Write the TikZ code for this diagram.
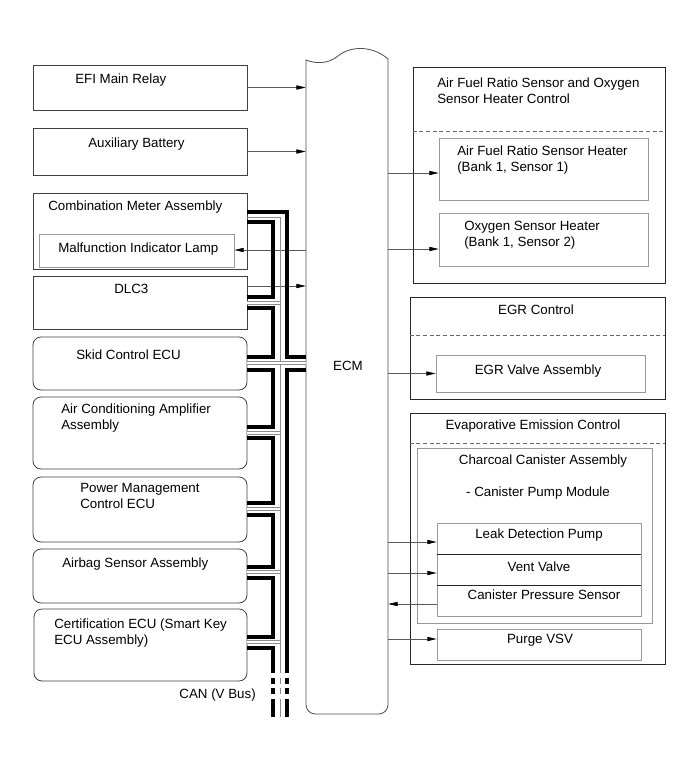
\documentclass[tikz,border=0pt]{standalone}
\usepackage{fontspec}
\setmainfont{Liberation Sans}
\usetikzlibrary{arrows.meta,fit,calc}
\begin{document}
\begin{tikzpicture}[x=0.75pt,y=-0.75pt,
  box/.style={draw=black!75, line width=0.6pt, inner sep=0pt},
  rbox/.style={box, rounded corners=6pt},
  ibox/.style={draw=black!40, line width=0.6pt, inner sep=0pt},
  grp/.style={draw=black!85, line width=0.6pt, inner sep=0pt},
  sep/.style={draw=black!60, dash pattern=on 3pt off 2pt, line width=0.5pt},
  txt/.style={anchor=base west, inner sep=0pt, align=left, font=\fontsize{10}{12}\selectfont},
  ctxt/.style={anchor=base, inner sep=0pt, font=\fontsize{10}{12}\selectfont},
  arr/.style={draw=black!65, line width=0.5pt, -{Triangle[length=7pt,width=3.2pt,color=black]}},
  bus/.style={line width=3pt, black},
  gline/.style={draw=black!45, line width=0.7pt},
  dbl/.style={draw=black!45, line width=0.4pt, double=white, double distance=1.6pt},
]
\useasboundingbox (0,0) rectangle (691,757);
\fill[white] (0,0) rectangle (691,757);

% ---------- left boxes ----------
\node[box, fit={(33,65)(247,110)}] (efi) {};
\node[box, fit={(33,128)(247,175)}] (aux) {};
\node[box, fit={(33,193)(247,269)}] (cm) {};
\node[ibox, fit={(39,234)(234,267)}] (mil) {};
\node[box, fit={(33,276)(247,329)}] (dlc) {};
\node[rbox, fit={(33,337)(247,390)}] (skid) {};
\node[rbox, fit={(33,397)(247,469)}] (ac) {};
\node[rbox, fit={(33,477)(247,542)}] (pm) {};
\node[rbox, fit={(33,549)(247,603)}] (airbag) {};
\node[rbox, fit={(34,609)(247,681)}] (cert) {};

\node[txt] (tefi) at (75,83) {EFI Main Relay};
\node[txt] (taux) at (88,147) {Auxiliary Battery};
\node[txt] (tcm) at (48,210) {Combination Meter Assembly};
\node[txt] (tmil) at (58,252) {Malfunction Indicator Lamp};
\node[txt] (tdlc) at (114,293) {DLC3};
\node[txt] (tskid) at (76,359) {Skid Control ECU};
\node[txt] (tac) at (61,429) {Air Conditioning Amplifier\\Assembly};
\node[txt] (tpm) at (80,508) {Power Management\\Control ECU};
\node[txt] (tairbag) at (62,567) {Airbag Sensor Assembly};
\node[txt] (tcert) at (54,644) {Certification ECU (Smart Key\\ECU Assembly)};
\node[anchor=base east, inner sep=0pt, font=\fontsize{10}{12}\selectfont] (tcan) at (256,698) {CAN (V Bus)};

% ---------- ECM ----------
\node[fit={(306,60)(388,714)}, inner sep=0pt] (ecm) {};
\draw[draw=black!70, line width=0.6pt]
  (306,60) .. controls (316,64) and (328,64) .. (338,56)
  .. controls (350,46) and (372,45) .. (388,59)
  [rounded corners=7pt] -- (388,714) -- (306,714) [sharp corners] -- cycle;
\node[ctxt] (tecm) at (348,370) {ECM};

% ---------- right groups ----------
\node[grp, fit={(413,67)(665,283)}] (afrg) {};
\draw[sep] (afrg.west |- 0,131) -- (afrg.east |- 0,131);
\node[ibox, fit={(439,138)(648,200)}] (afrh) {};
\node[ibox, fit={(439,213)(648,266)}] (o2h) {};
\node[txt] (tafrg) at (437,103) {Air Fuel Ratio Sensor and Oxygen\\Sensor Heater Control};
\node[txt] (tafrh) at (457,171) {Air Fuel Ratio Sensor Heater\\(Bank 1, Sensor 1)};
\node[txt] (to2h) at (464,246) {Oxygen Sensor Heater\\(Bank 1, Sensor 2)};

\node[grp, fit={(410,297)(665,399)}] (egrg) {};
\draw[sep] (egrg.west |- 0,335) -- (egrg.east |- 0,335);
\node[ibox, fit={(436,355)(645,392)}] (egrv) {};
\node[ctxt] (tegrg) at (536,314) {EGR Control};
\node[ctxt] (tegrv) at (538,374) {EGR Valve Assembly};

\node[grp, fit={(410,413)(665,664)}] (evapg) {};
\draw[sep] (evapg.west |- 0,443) -- (evapg.east |- 0,443);
\node[ibox, fit={(417,448)(652,623)}] (cca) {};
\node[ibox, fit={(437,523)(641,616)}] (pump) {};
\draw[black!85, line width=0.6pt] (pump.west |- 0,554) -- (pump.east |- 0,554);
\draw[black!85, line width=0.6pt] (pump.west |- 0,585) -- (pump.east |- 0,585);
\node[ibox, fit={(437,629)(641,660)}] (purge) {};
\node[ctxt] (tevap) at (533,429) {Evaporative Emission Control};
\node[ctxt] (tcca) at (543,464) {Charcoal Canister Assembly};
\node[ctxt] (tmod) at (538,496) {- Canister Pump Module};
\node[ctxt] (tldp) at (539,538) {Leak Detection Pump};
\node[ctxt] (tvent) at (539,571) {Vent Valve};
\node[ctxt] (tcps) at (544,599) {Canister Pressure Sensor};
\node[ctxt] (tpurge) at (540,643) {Purge VSV};

% ---------- row coordinates ----------
\coordinate (r173) at (0,173);
\coordinate (r249) at (0,249);
\coordinate (r250) at (0,250);
\coordinate (r286) at (0,286);
\coordinate (r542) at (0,542);
\coordinate (r573) at (0,573);
\coordinate (r604) at (0,604);
\coordinate (r639) at (0,639);

% ---------- signal arrows (under the bus) ----------
\draw[arr] (efi.east) -- (efi.east -| ecm.west);
\draw[arr] (aux.east) -- (aux.east -| ecm.west);
\draw[arr] (ecm.west |- r250) -- (mil.east |- r250);
\draw[arr] (dlc.east |- r286) -- (ecm.west |- r286);

\draw[arr] (ecm.east |- r173) -- (afrh.west |- r173);
\draw[arr] (ecm.east |- r249) -- (o2h.west |- r249);
\draw[arr] (ecm.east |- egrv.west) -- (egrv.west);
\draw[arr] (ecm.east |- r542) -- (pump.west |- r542);
\draw[arr] (ecm.east |- r573) -- (pump.west |- r573);
\draw[arr] (pump.west |- r604) -- (ecm.east |- r604);
\draw[arr] (ecm.east |- r639) -- (purge.west |- r639);

% ---------- CAN bus ----------
% thin centre wire
\draw[gline] (247,217) -| (280,673);
\foreach \yy/\xx in {303/280, 363/306, 433/280, 509/280, 572/280, 642/280}
  \draw[dbl] (247,\yy) -- (\xx,\yy);
% outer wire through ECM
\draw[bus] (247,212) -| (287,357) -- (306,357);
\draw[bus] (306,370) -| (287,673);
% inner wire loops between units
\draw[bus] (247,222) -| (273,297) -- (247,297);
\draw[bus] (247,308) -| (273,357) -- (247,357);
\draw[bus] (247,370) -| (273,427) -- (247,427);
\draw[bus] (247,438) -| (273,503) -- (247,503);
\draw[bus] (247,515) -| (273,567) -- (247,567);
\draw[bus] (247,578) -| (273,637) -- (247,637);
\draw[bus] (247,648) -| (273,673);
% broken continuation
\foreach \ya/\yb in {678/684, 688/694, 699/717}{
  \draw[line width=3pt] (273,\ya) -- (273,\yb);
  \draw[line width=3pt] (287,\ya) -- (287,\yb);
  \draw[gline] (280,\ya) -- (280,\yb);
}
\end{tikzpicture}
\end{document}
